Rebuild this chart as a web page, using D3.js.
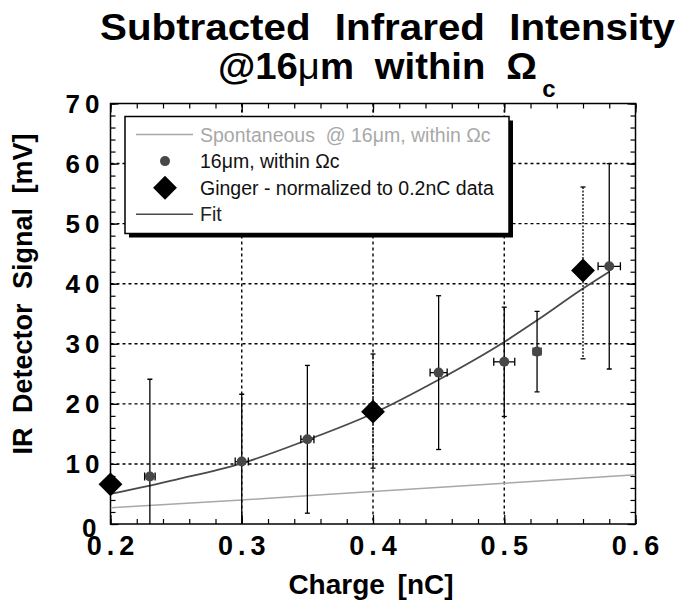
<!DOCTYPE html>
<html>
<head>
<meta charset="utf-8">
<script src="https://cdn.jsdelivr.net/npm/d3@7"></script>
<style>
  html, body { margin: 0; padding: 0; background: #fff; }
  svg { display: block; font-family: "Liberation Sans", Arial, sans-serif; }
</style>
</head>
<body>
<div id="chart"></div>
<script>
// measured points, 16um within solid angle
const charge = [0.23, 0.30, 0.35, 0.45, 0.50, 0.525, 0.58]
const chargeErr = [0.004, 0.005, 0.005, 0.0065, 0.008, 0.003, 0.0085]
const signal = [7.9, 10.4, 14.1, 25.2, 27.0, 28.7, 42.9]
const signalErr = [16.2, 11.2, 12.3, 12.8, 9.1, 6.7, 17.1]

// Ginger simulation (normalized to 0.2nC)
const gingerCharge = [0.2, 0.4, 0.56]
const gingerSignal = [6.6, 18.7, 42.2]
const gingerLow = [null, 9.3, 27.5]
const gingerHigh = [null, 28.3, 56.1]

// fit curve
const fitCharge = [0.2, 0.25, 0.3, 0.35, 0.4, 0.45, 0.5, 0.525, 0.56, 0.58]
const fitSignal = [5.0, 7.4, 10.1, 14.0, 18.4, 24.0, 30.3, 33.9, 39.2, 42.0]

// spontaneous emission
const spontCharge = [0.2, 0.3, 0.4, 0.5, 0.6]
const spontSignal = [2.7, 4.0, 5.4, 6.8, 8.2]

const xTicks = [0.2, 0.3, 0.4, 0.5, 0.6]
const yTicks = [0, 10, 20, 30, 40, 50, 60, 70]
const xGrid = [0.3, 0.4, 0.5]
const yGrid = [10, 20, 30, 40, 50, 60]

const legendItems = [
    { label: 'Spontaneous  @ 16\u03bcm, within \u03a9c', type: 'line', color: '#a8a8a8', text: '#a8a8a8' },
    { label: '16\u03bcm, within \u03a9c', type: 'circle', color: '#474747', text: '#111' },
    { label: 'Ginger - normalized to 0.2nC data', type: 'diamond', color: '#000', text: '#111' },
    { label: 'Fit', type: 'line', color: '#4a4a4a', text: '#222' }
]

var W = 683, H = 607
var margin = {top: 103.5, right: 47.5, bottom: 83, left: 110.5},
    width = W - margin.left - margin.right,
    height = H - margin.top - margin.bottom

var svg = d3.select('#chart').append('svg')
    .attr('width', W)
    .attr('height', H)

var x = d3.scaleLinear().domain([0.2, 0.6]).range([0, width])
var y = d3.scaleLinear().domain([0, 70]).range([height, 0])

// title (the original face is wider than Liberation, so stretch to the measured width)
var title = svg.append('g')
    .attr('font-weight', 'bold')
    .attr('font-size', 37)
    .attr('fill', '#000')
title.append('text')
    .attr('x', 100).attr('y', 40)
    .attr('word-spacing', 12)
    .attr('textLength', 575).attr('lengthAdjust', 'spacingAndGlyphs')
    .text('Subtracted Infrared Intensity')
var t2 = title.append('text')
    .attr('x', 218).attr('y', 79)
    .attr('word-spacing', 10)
    .attr('textLength', 319).attr('lengthAdjust', 'spacingAndGlyphs')
t2.append('tspan').text('@16')
t2.append('tspan').attr('font-weight', 'normal').text('\u03bc')
t2.append('tspan').text('m within \u03a9')
title.append('text')
    .attr('x', 549).attr('y', 97)
    .attr('text-anchor', 'middle')
    .attr('font-size', 24)
    .text('c')

var g = svg.append('g')
    .attr('transform', 'translate(' + margin.left + ',' + margin.top + ')')

svg.append('defs').append('clipPath').attr('id', 'plotclip')
    .append('rect').attr('width', width).attr('height', height)

// grid
g.append('g').selectAll('line').data(yGrid).enter().append('line')
    .attr('x1', 0).attr('x2', width)
    .attr('y1', d => y(d)).attr('y2', d => y(d))
    .attr('stroke', '#000').attr('stroke-width', 1.4).attr('stroke-dasharray', '3,3')
g.append('g').selectAll('line').data(xGrid).enter().append('line')
    .attr('y1', 0).attr('y2', height)
    .attr('x1', d => x(d)).attr('x2', d => x(d))
    .attr('stroke', '#000').attr('stroke-width', 1.4).attr('stroke-dasharray', '3,3')

// axes, ticks pointing inward on all four sides
var xMinor = d3.range(0.2, 0.6001, 0.02)
var yMinor = d3.range(0, 70.001, 2)

function tickAxis(axis, values, size) {
    return axis.tickValues(values).tickSizeInner(size).tickSizeOuter(0).tickFormat('')
}
g.append('g').attr('transform', 'translate(0,' + height + ')').call(tickAxis(d3.axisBottom(x), xMinor, -5))
g.append('g').attr('transform', 'translate(0,' + height + ')').call(tickAxis(d3.axisBottom(x), xTicks, -9))
g.append('g').call(tickAxis(d3.axisTop(x), xMinor, -5))
g.append('g').call(tickAxis(d3.axisTop(x), xTicks, -9))
g.append('g').call(tickAxis(d3.axisLeft(y), yMinor, -5))
g.append('g').call(tickAxis(d3.axisLeft(y), yTicks, -8))
g.append('g').attr('transform', 'translate(' + width + ',0)').call(tickAxis(d3.axisRight(y), yMinor, -5))
g.append('g').attr('transform', 'translate(' + width + ',0)').call(tickAxis(d3.axisRight(y), yTicks, -8))
g.selectAll('.domain').remove()
g.selectAll('.tick line').attr('stroke', '#000').attr('stroke-width', 1.2)

g.append('rect')
    .attr('width', width).attr('height', height)
    .attr('fill', 'none').attr('stroke', '#000').attr('stroke-width', 1.5)

// tick labels
g.append('g').selectAll('text').data(xTicks).enter().append('text')
    .attr('x', d => x(d) + 2.5).attr('y', height + 31)
    .attr('text-anchor', 'middle')
    .attr('font-size', 27).attr('font-weight', 'bold').attr('letter-spacing', 5)
    .text(d => d3.format('.1f')(d))
g.append('g').selectAll('text').data(yTicks).enter().append('text')
    .attr('x', d => d === 0 ? -9 : -6).attr('y', d => y(d) + (d === 0 ? 4 : 0))
    .attr('dy', '0.36em')
    .attr('text-anchor', 'end')
    .attr('font-size', 26).attr('font-weight', 'bold').attr('letter-spacing', 5)
    .text(d => d)

// axis titles
svg.append('text')
    .attr('x', margin.left + width / 2 - 2).attr('y', 594)
    .attr('text-anchor', 'middle')
    .attr('font-size', 28).attr('font-weight', 'bold').attr('word-spacing', 5)
    .text('Charge [nC]')
svg.append('text')
    .attr('transform', 'translate(32,294) rotate(-90)')
    .attr('text-anchor', 'middle')
    .attr('font-size', 27).attr('font-weight', 'bold').attr('word-spacing', 7)
    .text('IR Detector Signal [mV]')

// curves
var plot = g.append('g').attr('clip-path', 'url(#plotclip)')
var line = d3.line().x(d => x(d[0])).y(d => y(d[1])).curve(d3.curveMonotoneX)

plot.append('path')
    .datum(spontCharge.map((c, i) => [c, spontSignal[i]]))
    .attr('d', line).attr('fill', 'none')
    .attr('stroke', '#a8a8a8').attr('stroke-width', 1.5)
plot.append('path')
    .datum(fitCharge.map((c, i) => [c, fitSignal[i]]))
    .attr('d', line).attr('fill', 'none')
    .attr('stroke', '#4a4a4a').attr('stroke-width', 1.8)

// error bars for the data
var cap = 2.5
charge.forEach((c, i) => {
    var eb = plot.append('g').attr('stroke', '#000').attr('stroke-width', 1.3)
    var yt = y(signal[i] + signalErr[i]), yb = y(signal[i] - signalErr[i])
    eb.append('line').attr('x1', x(c)).attr('x2', x(c)).attr('y1', yt).attr('y2', yb)
    eb.append('line').attr('x1', x(c) - cap).attr('x2', x(c) + cap).attr('y1', yt).attr('y2', yt)
    eb.append('line').attr('x1', x(c) - cap).attr('x2', x(c) + cap).attr('y1', yb).attr('y2', yb)
    var xl = x(c - chargeErr[i]), xr = x(c + chargeErr[i])
    eb.append('line').attr('x1', xl).attr('x2', xr).attr('y1', y(signal[i])).attr('y2', y(signal[i]))
    eb.append('line').attr('x1', xl).attr('x2', xl).attr('y1', y(signal[i]) - 4).attr('y2', y(signal[i]) + 4)
    eb.append('line').attr('x1', xr).attr('x2', xr).attr('y1', y(signal[i]) - 4).attr('y2', y(signal[i]) + 4)
})

// error bars for Ginger points (dotted)
gingerCharge.forEach((c, i) => {
    if (gingerLow[i] == null) return
    var eb = g.append('g').attr('stroke', '#000').attr('stroke-width', 1.3)
    var yt = y(gingerHigh[i]), yb = y(gingerLow[i])
    eb.append('line').attr('x1', x(c)).attr('x2', x(c)).attr('y1', yt).attr('y2', yb)
        .attr('stroke-dasharray', '2,1.5')
    eb.append('line').attr('x1', x(c) - cap).attr('x2', x(c) + cap).attr('y1', yt).attr('y2', yt)
    eb.append('line').attr('x1', x(c) - cap).attr('x2', x(c) + cap).attr('y1', yb).attr('y2', yb)
})

g.append('g').selectAll('circle').data(charge).enter().append('circle')
    .attr('cx', d => x(d)).attr('cy', (d, i) => y(signal[i]))
    .attr('r', 5).attr('fill', '#474747')

var diamond = d3.symbol().type(d3.symbolSquare).size(285)
g.append('g').selectAll('path').data(gingerCharge).enter().append('path')
    .attr('d', diamond)
    .attr('transform', (d, i) => 'translate(' + x(d) + ',' + y(gingerSignal[i]) + ') rotate(45)')
    .attr('fill', '#000')

// legend
var lg = svg.append('g').attr('transform', 'translate(125,116.5)')
var lw = 384, lh = 117
lg.append('rect').attr('x', 4).attr('y', 4).attr('width', lw).attr('height', lh).attr('fill', '#000')
lg.append('rect').attr('width', lw).attr('height', lh)
    .attr('fill', '#fff').attr('stroke', '#000').attr('stroke-width', 1.5)

var rows = lg.selectAll('.row').data(legendItems).enter().append('g')
    .attr('transform', (d, i) => 'translate(0,' + (18 + i * 26.6) + ')')
rows.each(function (d) {
    var r = d3.select(this)
    if (d.type == 'line') {
        r.append('line').attr('x1', 11).attr('x2', 68).attr('y1', 0).attr('y2', 0)
            .attr('stroke', d.color).attr('stroke-width', 1.6)
    } else if (d.type == 'circle') {
        r.append('circle').attr('cx', 40).attr('cy', 0).attr('r', 5).attr('fill', d.color)
    } else {
        r.append('path').attr('d', diamond).attr('transform', 'translate(40,0) rotate(45)').attr('fill', d.color)
    }
    r.append('text')
        .attr('x', 75).attr('y', 0).attr('dy', '0.36em')
        .attr('font-size', 19.5).attr('fill', d.text)
        .attr('xml:space', 'preserve')
        .text(d.label)
})
</script>
</body>
</html>
